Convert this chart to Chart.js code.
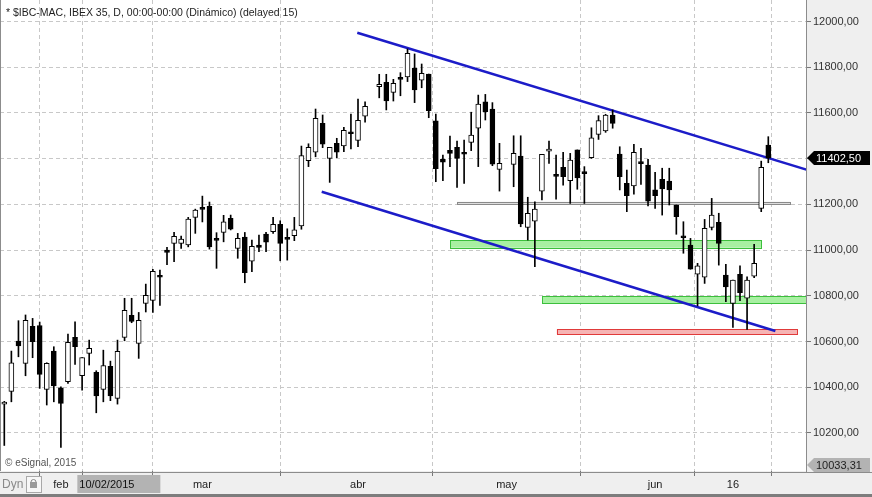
<!DOCTYPE html>
<html>
<head>
<meta charset="utf-8">
<script src="https://cdn.jsdelivr.net/npm/chart.js@4.4.1/dist/chart.umd.min.js"></script>
<style>
  html, body { margin: 0; padding: 0; background: #efefef; }
  #wrap { width: 872px; height: 497px; }
</style>
</head>
<body>
<div id="wrap"><canvas id="chart" width="872" height="497"></canvas></div>
<script>
// IBEX 35 daily candles, 21/01/2015 - 23/06/2015 (null = market holiday slot)
const dates = [
  '2015-01-21','2015-01-22','2015-01-23','2015-01-26','2015-01-27','2015-01-28','2015-01-29','2015-01-30',
  '2015-02-02','2015-02-03','2015-02-04','2015-02-05','2015-02-06','2015-02-09','2015-02-10','2015-02-11','2015-02-12','2015-02-13',
  '2015-02-16','2015-02-17','2015-02-18','2015-02-19','2015-02-20','2015-02-23','2015-02-24','2015-02-25','2015-02-26','2015-02-27',
  '2015-03-02','2015-03-03','2015-03-04','2015-03-05','2015-03-06','2015-03-09','2015-03-10','2015-03-11','2015-03-12','2015-03-13',
  '2015-03-16','2015-03-17','2015-03-18','2015-03-19','2015-03-20','2015-03-23','2015-03-24','2015-03-25','2015-03-26','2015-03-27',
  '2015-03-30','2015-03-31',
  '2015-04-01','2015-04-02','2015-04-03','2015-04-07','2015-04-08','2015-04-09','2015-04-10','2015-04-13','2015-04-14','2015-04-15',
  '2015-04-16','2015-04-17','2015-04-20','2015-04-21','2015-04-22','2015-04-23','2015-04-24','2015-04-27','2015-04-28','2015-04-29',
  '2015-04-30','2015-05-01',
  '2015-05-04','2015-05-05','2015-05-06','2015-05-07','2015-05-08','2015-05-11','2015-05-12','2015-05-13','2015-05-14','2015-05-15',
  '2015-05-18','2015-05-19','2015-05-20','2015-05-21','2015-05-22','2015-05-25','2015-05-26','2015-05-27','2015-05-28','2015-05-29',
  '2015-06-01','2015-06-02','2015-06-03','2015-06-04','2015-06-05','2015-06-08','2015-06-09','2015-06-10','2015-06-11','2015-06-12',
  '2015-06-15','2015-06-16','2015-06-17','2015-06-18','2015-06-19','2015-06-22','2015-06-23'
];
const opens = [
  10326,10382,10602,10504,10666,10670,10390,10558,
  10397,10424,10618,10450,10548,10465,10390,10491,10351,10618,10714,10592,10767,10780,10886,11000,11029,11029,11022,11143,
  11187,11191,11049,11077,11139,11007,11057,10951,11022,11070,11080,11112,11053,11063,11106,11391,11428,11554,11401,11467,11456,11515,
  11480,11586,null,11715,11734,11690,11753,11758,11796,11743,11770,11565,11397,11436,11449,11424,11471,11533,11649,11617,11353,null,
  11375,11411,11099,11126,11258,11433,11327,11362,11303,11438,11343,11404,11506,11521,11591,11420,11292,11281,11382,11372,
  11263,11309,11302,11197,11060,11022,10894,10881,11099,11121,10891,10767,10894,10789,10886,11182,11459
];
const highs = [
  10338,10558,10691,10716,10701,10685,10507,10577,
  10402,10632,10686,10530,10606,10472,10562,10514,10606,10789,10789,10727,10851,10916,10912,11012,11077,11061,11143,11179,
  11236,11210,11076,11152,11153,11073,11077,11044,11066,11077,11143,11128,11093,11143,11455,11465,11617,11591,11449,11489,11537,11595,
  11661,11649,null,11769,11769,11747,11776,11880,11858,11814,11770,11595,11416,11499,11477,11481,11603,11678,11681,11645,11467,null,
  11500,11500,11231,11211,11419,11477,11416,11428,11423,11438,11365,11535,11588,11594,11613,11452,11350,11463,11445,11397,
  11340,11358,11358,11197,11124,11051,10942,11134,11226,11161,10937,10869,10931,10883,11025,11389,11496
];
const lows = [
  10145,10336,10533,10450,10529,10395,10322,10336,
  10137,10417,10500,10387,10497,10288,10336,10341,10326,10603,10682,10526,10729,10727,10758,10936,10949,11007,11014,11073,
  11123,11004,10920,11036,11088,10964,10857,10905,10993,10993,11073,10953,10956,11041,11091,11365,11408,11448,11296,11404,11430,11442,
  11452,11559,null,11666,11613,11652,11675,11737,11645,11710,11579,11299,11303,11365,11274,11292,11435,11365,11569,11369,11258,null,
  11277,11102,11044,10927,11219,11379,11223,11284,11204,11266,11204,11401,11484,11515,11533,11263,11168,11245,11287,11193,
  11182,11153,11197,11069,10986,10916,10756,10854,11088,10934,10774,10662,10778,10653,10879,11168,11382
];
const closes = [
  10335,10507,10581,10692,10599,10456,10504,10405,
  10329,10596,10577,10530,10570,10362,10495,10362,10557,10736,10688,10692,10802,10907,10881,10990,11060,11048,11136,11175,
  11178,11014,11042,11123,11091,11051,10901,11016,11012,11034,11112,11029,11047,11088,11413,11449,11576,11463,11449,11428,11524,11509,
  11568,11629,null,11725,11653,11729,11747,11861,11701,11773,11610,11356,11384,11423,11401,11419,11503,11639,11605,11376,11379,null,
  11423,11114,11161,11179,11419,11442,11322,11321,11394,11316,11334,11491,11566,11591,11554,11321,11238,11428,11378,11214,
  11238,11267,11263,11146,11054,10916,10931,11095,11153,11029,10839,10869,10813,10869,10942,11362,11402.5
];

// axis ticks (x in bar slots)
const monthTickSlots = [8, 14, 28, 50, 71, 92, 103];
const monthTickLabels = ['feb', '', 'mar', 'abr', 'may', 'jun', '16'];
const priceTicks = [10200, 10400, 10600, 10800, 11000, 11200, 11400, 11600, 11800, 12000];
const lastPrice = 11402.5;
const axisMin = 10033.31;
const axisMax = 12094;
const cursorSlot = 14;
const cursorLabel = '10/02/2015';

// drawn studies: [slot, price] pairs and zones [fromSlot, toSlot, low, high]
const upperChannel = [[49.9, 11951], [113.4, 11352]];
const lowerChannel = [[44.87, 11255], [109.0, 10646]];
const greyZone = [64.0, 111.1, 11201, 11211];
const greenZoneHigh = [63.05, 107.07, 11010, 11044];
const greenZoneLow = [76.05, 114, 10765, 10797];
const redZone = [78.1, 112.06, 10631, 10653];

const FONT = '"Liberation Sans", Arial, sans-serif';
const fmt = v => v.toFixed(2).replace('.', ',');

const wickData = [];
const bodyData = [];
const bodyFill = [];
dates.forEach((d, i) => {
  if (opens[i] == null) return;
  wickData.push({ x: i, y: [lows[i], highs[i]] });
  bodyData.push({ x: i, y: [opens[i], closes[i]] });
  bodyFill.push(closes[i] >= opens[i] ? '#ffffff' : '#000000');
});

const zones = [
  { z: greyZone, fill: '#dedede', stroke: '#8a8a8a' },
  { z: greenZoneHigh, fill: '#a8f0a2', stroke: '#3cbf3c' },
  { z: greenZoneLow, fill: '#a8f0a2', stroke: '#3cbf3c' },
  { z: redZone, fill: '#f6b4b4', stroke: '#e03a3a' }
];

const decor = {
  id: 'decor',
  beforeDraw(chart) {
    const { ctx, chartArea: a, width, height } = chart;
    ctx.save();
    ctx.fillStyle = '#efefef';
    ctx.fillRect(0, 0, width, height);
    ctx.fillStyle = '#ffffff';
    ctx.fillRect(a.left, a.top, a.right - a.left, a.bottom - a.top);
    ctx.restore();
  },
  beforeDatasetsDraw(chart) {
    const { ctx, chartArea: a, scales: { x, y } } = chart;
    ctx.save();
    ctx.beginPath();
    ctx.rect(a.left, a.top, a.right - a.left, a.bottom - a.top);
    ctx.clip();
    zones.forEach(({ z, fill, stroke }) => {
      const x0 = x.getPixelForValue(z[0]);
      const x1 = x.getPixelForValue(z[1]);
      const y0 = y.getPixelForValue(z[3]);
      const y1 = y.getPixelForValue(z[2]);
      ctx.fillStyle = fill;
      ctx.fillRect(x0, y0, x1 - x0, y1 - y0);
      ctx.strokeStyle = stroke;
      ctx.lineWidth = 1;
      ctx.strokeRect(Math.round(x0) + 0.5, Math.round(y0) + 0.5, Math.round(x1 - x0), Math.round(y1 - y0));
    });
    ctx.restore();
  },
  afterDraw(chart) {
    const { ctx, chartArea: a, scales: { x, y }, width } = chart;
    ctx.save();
    // frame
    ctx.strokeStyle = '#8c8c8c';
    ctx.lineWidth = 1;
    ctx.beginPath();
    ctx.moveTo(0.5, 0); ctx.lineTo(0.5, a.bottom);
    ctx.moveTo(a.right + 0.5, 0); ctx.lineTo(a.right + 0.5, a.bottom + 1);
    ctx.moveTo(0, a.bottom + 1.5); ctx.lineTo(width, a.bottom + 1.5);
    ctx.stroke();
    ctx.fillStyle = '#7d7d7d';
    ctx.fillRect(0, 494, width, 3);

    // title and copyright
    ctx.font = '10.5px ' + FONT;
    ctx.fillStyle = '#1e1e1e';
    ctx.textBaseline = 'middle';
    ctx.textAlign = 'left';
    ctx.fillText('* $IBC-MAC, IBEX 35, D, 00:00-00:00 (Dinámico) (delayed 15)', 6, 13);
    ctx.font = '10px ' + FONT;
    ctx.fillStyle = '#555555';
    ctx.fillText('© eSignal, 2015', 5, 463);

    // price markers on the right axis
    const marker = (value, yy, bg, fg) => {
      const l = a.right + 1;
      ctx.beginPath();
      ctx.moveTo(l, yy);
      ctx.lineTo(l + 7, yy - 7);
      ctx.lineTo(width - 2, yy - 7);
      ctx.lineTo(width - 2, yy + 7);
      ctx.lineTo(l + 7, yy + 7);
      ctx.closePath();
      ctx.fillStyle = bg;
      ctx.fill();
      ctx.font = '11px ' + FONT;
      ctx.fillStyle = fg;
      ctx.textAlign = 'left';
      ctx.fillText(fmt(value), l + 9, yy + 0.5);
    };
    marker(lastPrice, y.getPixelForValue(lastPrice), '#000000', '#ffffff');
    marker(axisMin, Math.min(y.getPixelForValue(axisMin), a.bottom - 6), '#b3b3b3', '#1e1e1e');

    // cursor date box
    const cx = x.getPixelForValue(cursorSlot);
    ctx.fillStyle = '#b3b3b3';
    ctx.fillRect(cx - 26, a.bottom + 4, 83, 18);
    ctx.fillStyle = '#111111';
    ctx.font = '11px ' + FONT;
    ctx.fillText(cursorLabel, cx - 24, a.bottom + 13.5);

    // Dyn + lock
    ctx.font = '12px ' + FONT;
    ctx.fillStyle = '#8a8a8a';
    ctx.fillText('Dyn', 2, a.bottom + 13.5);
    ctx.fillStyle = '#f7f7f7';
    ctx.fillRect(26, a.bottom + 5, 15, 16);
    ctx.strokeStyle = '#a8a8a8';
    ctx.strokeRect(26.5, a.bottom + 5.5, 15, 16);
    ctx.strokeStyle = '#8a8a8a';
    ctx.beginPath();
    ctx.arc(33.5, a.bottom + 11, 2.5, Math.PI, 0);
    ctx.stroke();
    ctx.fillStyle = '#9a9a9a';
    ctx.fillRect(30, a.bottom + 11, 7, 6);
    ctx.restore();
  }
};

const ctx = document.getElementById('chart').getContext('2d');
new Chart(ctx, {
  type: 'bar',
  data: {
    datasets: [
      {
        type: 'line',
        data: upperChannel.map(p => ({ x: p[0], y: p[1] })),
        borderColor: '#1c1cc8',
        borderWidth: 2.5,
        pointRadius: 0,
        order: 3
      },
      {
        type: 'line',
        data: lowerChannel.map(p => ({ x: p[0], y: p[1] })),
        borderColor: '#1c1cc8',
        borderWidth: 2.5,
        pointRadius: 0,
        order: 3
      },
      {
        data: wickData,
        backgroundColor: '#000000',
        barThickness: 1,
        grouped: false,
        order: 2
      },
      {
        data: bodyData,
        backgroundColor: bodyFill,
        borderColor: '#000000',
        borderWidth: 1,
        borderSkipped: false,
        minBarLength: 2,
        barThickness: 5,
        grouped: false,
        order: 1
      }
    ]
  },
  options: {
    responsive: false,
    animation: false,
    devicePixelRatio: 1,
    layout: { padding: 0 },
    plugins: { legend: { display: false }, tooltip: { enabled: false } },
    scales: {
      x: {
        type: 'linear',
        min: -0.608,
        max: 113.33,
        offset: false,
        afterBuildTicks: axis => { axis.ticks = monthTickSlots.map(v => ({ value: v })); },
        afterFit: axis => {
          axis.height = 26;
          axis.paddingLeft = 0;
          axis.paddingRight = 0;
        },
        ticks: {
          autoSkip: false,
          maxRotation: 0,
          padding: 2,
          color: '#222222',
          font: { family: FONT, size: 11 },
          callback: (v, i) => monthTickLabels[i]
        },
        grid: {
          color: '#c8c8c8',
          tickColor: '#777777',
          tickLength: 5,
          tickBorderDash: []
        },
        border: { display: false, dash: [4, 3] }
      },
      y: {
        position: 'right',
        min: axisMin,
        max: axisMax,
        afterBuildTicks: axis => { axis.ticks = priceTicks.map(v => ({ value: v })); },
        afterFit: axis => {
          axis.width = 66;
          axis.paddingTop = 0;
          axis.paddingBottom = 0;
        },
        ticks: {
          padding: 2,
          color: '#333333',
          font: { family: FONT, size: 11 },
          callback: v => fmt(v)
        },
        grid: {
          color: '#c8c8c8',
          tickColor: '#777777',
          tickLength: 5,
          tickBorderDash: []
        },
        border: { display: false, dash: [4, 3] }
      }
    }
  },
  plugins: [decor]
});
</script>
</body>
</html>
